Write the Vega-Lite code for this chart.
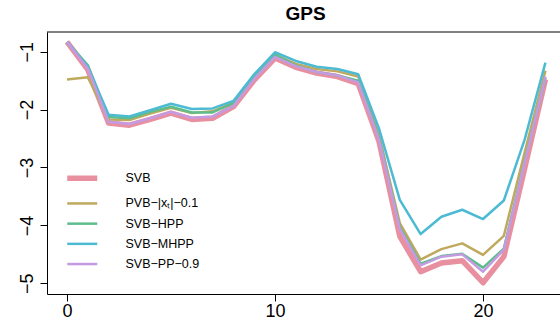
{
  "$schema": "https://vega.github.io/schema/vega-lite/v6.json",
  "autosize": {"type": "none"},
  "width": 513,
  "height": 262,
  "padding": {"left": 47, "top": 32, "right": 0, "bottom": 32},
  "background": "white",
  "title": {"text": "GPS", "font": "Liberation Sans", "fontSize": 19, "fontWeight": "bold", "color": "black", "anchor": "middle", "offset": 8, "dx": 2},
  "config": {"view": {"stroke": null}, "font": "Liberation Sans"},
  "datasets": {
    "series": [
      {"t": 0, "m": "SVB", "v": -0.83}, {"t": 1, "m": "SVB", "v": -1.31}, {"t": 2, "m": "SVB", "v": -2.23}, {"t": 3, "m": "SVB", "v": -2.27}, {"t": 4, "m": "SVB", "v": -2.17}, {"t": 5, "m": "SVB", "v": -2.06}, {"t": 6, "m": "SVB", "v": -2.17}, {"t": 7, "m": "SVB", "v": -2.15}, {"t": 8, "m": "SVB", "v": -1.95}, {"t": 9, "m": "SVB", "v": -1.49}, {"t": 10, "m": "SVB", "v": -1.11}, {"t": 11, "m": "SVB", "v": -1.27}, {"t": 12, "m": "SVB", "v": -1.37}, {"t": 13, "m": "SVB", "v": -1.43}, {"t": 14, "m": "SVB", "v": -1.55}, {"t": 15, "m": "SVB", "v": -2.55}, {"t": 16, "m": "SVB", "v": -4.19}, {"t": 17, "m": "SVB", "v": -4.8}, {"t": 18, "m": "SVB", "v": -4.65}, {"t": 19, "m": "SVB", "v": -4.61}, {"t": 20, "m": "SVB", "v": -4.99}, {"t": 21, "m": "SVB", "v": -4.54}, {"t": 22, "m": "SVB", "v": -3.02}, {"t": 23, "m": "SVB", "v": -1.48},
      {"t": 0, "m": "PVB−|xₜ|−0.1", "v": -1.48}, {"t": 1, "m": "PVB−|xₜ|−0.1", "v": -1.44}, {"t": 2, "m": "PVB−|xₜ|−0.1", "v": -2.17}, {"t": 3, "m": "PVB−|xₜ|−0.1", "v": -2.18}, {"t": 4, "m": "PVB−|xₜ|−0.1", "v": -2.07}, {"t": 5, "m": "PVB−|xₜ|−0.1", "v": -1.97}, {"t": 6, "m": "PVB−|xₜ|−0.1", "v": -2.06}, {"t": 7, "m": "PVB−|xₜ|−0.1", "v": -2.03}, {"t": 8, "m": "PVB−|xₜ|−0.1", "v": -1.88}, {"t": 9, "m": "PVB−|xₜ|−0.1", "v": -1.43}, {"t": 10, "m": "PVB−|xₜ|−0.1", "v": -1.05}, {"t": 11, "m": "PVB−|xₜ|−0.1", "v": -1.21}, {"t": 12, "m": "PVB−|xₜ|−0.1", "v": -1.3}, {"t": 13, "m": "PVB−|xₜ|−0.1", "v": -1.34}, {"t": 14, "m": "PVB−|xₜ|−0.1", "v": -1.43}, {"t": 15, "m": "PVB−|xₜ|−0.1", "v": -2.45}, {"t": 16, "m": "PVB−|xₜ|−0.1", "v": -3.96}, {"t": 17, "m": "PVB−|xₜ|−0.1", "v": -4.59}, {"t": 18, "m": "PVB−|xₜ|−0.1", "v": -4.41}, {"t": 19, "m": "PVB−|xₜ|−0.1", "v": -4.31}, {"t": 20, "m": "PVB−|xₜ|−0.1", "v": -4.51}, {"t": 21, "m": "PVB−|xₜ|−0.1", "v": -4.18}, {"t": 22, "m": "PVB−|xₜ|−0.1", "v": -2.74}, {"t": 23, "m": "PVB−|xₜ|−0.1", "v": -1.33},
      {"t": 0, "m": "SVB−HPP", "v": -0.83}, {"t": 1, "m": "SVB−HPP", "v": -1.23}, {"t": 2, "m": "SVB−HPP", "v": -2.13}, {"t": 3, "m": "SVB−HPP", "v": -2.15}, {"t": 4, "m": "SVB−HPP", "v": -2.04}, {"t": 5, "m": "SVB−HPP", "v": -1.95}, {"t": 6, "m": "SVB−HPP", "v": -2.05}, {"t": 7, "m": "SVB−HPP", "v": -2.05}, {"t": 8, "m": "SVB−HPP", "v": -1.89}, {"t": 9, "m": "SVB−HPP", "v": -1.44}, {"t": 10, "m": "SVB−HPP", "v": -1.05}, {"t": 11, "m": "SVB−HPP", "v": -1.24}, {"t": 12, "m": "SVB−HPP", "v": -1.35}, {"t": 13, "m": "SVB−HPP", "v": -1.41}, {"t": 14, "m": "SVB−HPP", "v": -1.5}, {"t": 15, "m": "SVB−HPP", "v": -2.5}, {"t": 16, "m": "SVB−HPP", "v": -4.03}, {"t": 17, "m": "SVB−HPP", "v": -4.66}, {"t": 18, "m": "SVB−HPP", "v": -4.53}, {"t": 19, "m": "SVB−HPP", "v": -4.49}, {"t": 20, "m": "SVB−HPP", "v": -4.73}, {"t": 21, "m": "SVB−HPP", "v": -4.4}, {"t": 22, "m": "SVB−HPP", "v": -2.9}, {"t": 23, "m": "SVB−HPP", "v": -1.45},
      {"t": 0, "m": "SVB−MHPP", "v": -0.83}, {"t": 1, "m": "SVB−MHPP", "v": -1.26}, {"t": 2, "m": "SVB−MHPP", "v": -2.09}, {"t": 3, "m": "SVB−MHPP", "v": -2.12}, {"t": 4, "m": "SVB−MHPP", "v": -2.01}, {"t": 5, "m": "SVB−MHPP", "v": -1.9}, {"t": 6, "m": "SVB−MHPP", "v": -1.99}, {"t": 7, "m": "SVB−MHPP", "v": -1.98}, {"t": 8, "m": "SVB−MHPP", "v": -1.85}, {"t": 9, "m": "SVB−MHPP", "v": -1.39}, {"t": 10, "m": "SVB−MHPP", "v": -1.01}, {"t": 11, "m": "SVB−MHPP", "v": -1.16}, {"t": 12, "m": "SVB−MHPP", "v": -1.26}, {"t": 13, "m": "SVB−MHPP", "v": -1.3}, {"t": 14, "m": "SVB−MHPP", "v": -1.39}, {"t": 15, "m": "SVB−MHPP", "v": -2.33}, {"t": 16, "m": "SVB−MHPP", "v": -3.56}, {"t": 17, "m": "SVB−MHPP", "v": -4.15}, {"t": 18, "m": "SVB−MHPP", "v": -3.85}, {"t": 19, "m": "SVB−MHPP", "v": -3.73}, {"t": 20, "m": "SVB−MHPP", "v": -3.89}, {"t": 21, "m": "SVB−MHPP", "v": -3.57}, {"t": 22, "m": "SVB−MHPP", "v": -2.52}, {"t": 23, "m": "SVB−MHPP", "v": -1.19},
      {"t": 0, "m": "SVB−PP−0.9", "v": -0.83}, {"t": 1, "m": "SVB−PP−0.9", "v": -1.29}, {"t": 2, "m": "SVB−PP−0.9", "v": -2.21}, {"t": 3, "m": "SVB−PP−0.9", "v": -2.25}, {"t": 4, "m": "SVB−PP−0.9", "v": -2.15}, {"t": 5, "m": "SVB−PP−0.9", "v": -2.04}, {"t": 6, "m": "SVB−PP−0.9", "v": -2.14}, {"t": 7, "m": "SVB−PP−0.9", "v": -2.12}, {"t": 8, "m": "SVB−PP−0.9", "v": -1.94}, {"t": 9, "m": "SVB−PP−0.9", "v": -1.47}, {"t": 10, "m": "SVB−PP−0.9", "v": -1.09}, {"t": 11, "m": "SVB−PP−0.9", "v": -1.25}, {"t": 12, "m": "SVB−PP−0.9", "v": -1.35}, {"t": 13, "m": "SVB−PP−0.9", "v": -1.41}, {"t": 14, "m": "SVB−PP−0.9", "v": -1.53}, {"t": 15, "m": "SVB−PP−0.9", "v": -2.52}, {"t": 16, "m": "SVB−PP−0.9", "v": -4.06}, {"t": 17, "m": "SVB−PP−0.9", "v": -4.69}, {"t": 18, "m": "SVB−PP−0.9", "v": -4.54}, {"t": 19, "m": "SVB−PP−0.9", "v": -4.5}, {"t": 20, "m": "SVB−PP−0.9", "v": -4.8}, {"t": 21, "m": "SVB−PP−0.9", "v": -4.42}, {"t": 22, "m": "SVB−PP−0.9", "v": -2.92}, {"t": 23, "m": "SVB−PP−0.9", "v": -1.43}
    ],
    "frame": [{"top": -0.66}]
  },
  "encoding": {
    "x": {"field": "t", "type": "quantitative", "scale": {"domain": [-0.96, 23.7], "nice": false, "zero": false},
      "axis": {"values": [0, 10, 20], "format": "d", "title": null, "grid": false, "domainColor": "black", "domainWidth": 1, "tickColor": "black", "tickSize": 7, "tickWidth": 1, "labelFont": "Liberation Sans", "labelFontSize": 18, "labelColor": "black", "labelPadding": 1, "labelFlush": false}},
    "y": {"field": "v", "type": "quantitative", "scale": {"domain": [-5.185, -0.66], "nice": false, "zero": false},
      "axis": {"values": [-5, -4, -3, -2, -1], "format": "d", "title": null, "grid": false, "domainColor": "black", "domainWidth": 1, "tickColor": "black", "tickSize": 7, "tickWidth": 1, "labelFont": "Liberation Sans", "labelFontSize": 18, "labelColor": "black", "labelAngle": 270, "labelPadding": 4, "labelFlush": false}},
    "color": {"field": "m", "type": "nominal", "sort": null,
      "scale": {"domain": ["SVB", "PVB−|xₜ|−0.1", "SVB−HPP", "SVB−MHPP", "SVB−PP−0.9"], "range": ["#E8909F", "#BFA95E", "#5DBE8C", "#4DBAD4", "#C49BE2"]},
      "legend": {"title": null, "orient": "none", "legendX": 29, "legendY": 140, "symbolType": "stroke", "symbolSize": 900, "symbolStrokeWidth": 2.5, "labelFont": "Liberation Sans", "labelFontSize": 12.5, "labelColor": "black", "labelOffset": 37, "rowPadding": 7.2, "labelLimit": 300,
        "encode": {"symbols": {"update": {"strokeWidth": {"signal": "datum.value === 'SVB' ? 5.5 : 2.5"}}}}}}
  },
  "layer": [
    {
      "data": {"name": "series"},
      "transform": [{"filter": "datum.m === 'SVB'"}],
      "mark": {"type": "line", "strokeJoin": "round", "strokeCap": "butt", "clip": true, "strokeWidth": 5.5}
    },
    {
      "data": {"name": "series"},
      "transform": [{"filter": "datum.m !== 'SVB'"}],
      "mark": {"type": "line", "strokeJoin": "round", "strokeCap": "butt", "clip": true, "strokeWidth": 2.5}
    },
    {
      "data": {"name": "frame"},
      "mark": {"type": "rule", "color": "black", "strokeWidth": 1},
      "encoding": {"x": null, "color": null, "y": {"field": "top", "type": "quantitative"}}
    }
  ]
}
